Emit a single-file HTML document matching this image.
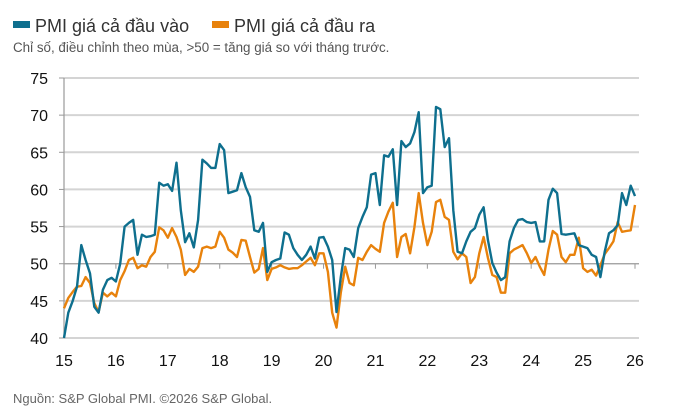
<!DOCTYPE html>
<html><head><meta charset="utf-8">
<style>
body{margin:0;background:#fff;font-family:"Liberation Sans",sans-serif;}
#wrap{position:relative;width:700px;height:415px;overflow:hidden;}
</style></head>
<body>
<div id="wrap">
<svg id="chart" width="700" height="415">
  <g>
    <rect x="13" y="21" width="17" height="7" fill="#0e6f8e"/>
    <text x="35" y="32" font-size="18" fill="#333" font-family="Liberation Sans, sans-serif">PMI giá cả đầu vào</text>
    <rect x="212" y="21" width="17" height="7" fill="#e8820c"/>
    <text x="234" y="32" font-size="18" fill="#333" font-family="Liberation Sans, sans-serif">PMI giá cả đầu ra</text>
  </g>
  <text x="13" y="52" font-size="13.4" fill="#555">Chỉ số, điều chỉnh theo mùa, &gt;50 = tăng giá so với tháng trước.</text>
  <g id="grid"></g>
  <g id="axes"></g>
  <g id="series"></g>
  <text x="13" y="403" font-size="13" fill="#666">Nguồn: S&amp;P Global PMI. ©2026 S&amp;P Global.</text>
</svg>
</div>
<script>
const yTicks = [40,45,50,55,60,65,70,75];
const xTickLabels = ["15","16","17","18","19","20","21","22","23","24","25","26"];
const inputPrices = [
40,43.4,45,46.9,52.5,50.5,48.7,44.2,43.4,46.5,47.8,48.1,
47.6,50,55,55.5,55.9,51.2,53.9,53.6,53.7,53.9,60.9,60.5,
60.7,59.8,63.6,57.2,52.9,54.1,52.2,55.9,64,63.5,62.9,62.9,
66.1,65.3,59.5,59.7,59.9,62.2,60.3,59,54.5,54.3,55.5,48.9,
50.2,50.5,50.7,54.2,53.9,52.1,51.2,50.5,51.2,52.3,50.7,53.5,
53.6,52.3,50.5,43.5,48.2,52.1,51.9,
50.9,54.8,56.3,57.6,62,62.2,57.9,64.6,64.4,65.4,57.9,66.5,65.7,66.2,67.7,70.4,59.5,60.3,60.5,71.1,70.8,65.7,66.9,57.2,51.6,51.4,53,54.3,54.8,56.6,57.6,53.2,50.1,48.8,47.8,48.2,53,54.8,55.9,56,55.6,55.5,55.6,53,53,58.6,60.1,59.5,54,53.9,54,54.1,52.5,52.3,52.1,51.2,50.9,48.2,51.6,54.1,54.5,55.2,59.5,57.9,60.5,59.1];
const outputPrices = [
44,45.4,46.2,46.9,47,48.2,47.4,44.7,43.5,46.1,45.6,46.1,
45.6,47.8,49,50.5,50.8,49.4,49.8,49.6,50.9,51.6,54.9,54.5,
53.5,54.8,53.6,51.9,48.5,49.3,48.9,49.6,52.1,52.3,52.1,52.3,
54.3,53.5,51.9,51.5,50.9,53.2,53.1,50.9,48.8,49.3,52.1,47.8,
49.3,49.5,49.8,49.5,49.3,49.4,49.4,49.8,50.3,50.8,49.8,51.4,
51.4,48.9,43.4,41.4,46.1,49.6,47.4,
47.1,50.8,50.5,51.6,52.5,52,51.6,55.5,57,58.2,50.9,53.6,54,51.4,54.9,59.5,55.5,52.5,54.3,58.3,58.6,56.3,55.9,51.6,50.6,51.4,50.9,47.4,48.2,51.4,53.6,50.8,48.5,48.2,46.1,46.1,51.4,51.9,52.2,52.5,51.4,50.1,50.9,49.6,48.5,51.9,54.4,53.9,50.9,50.2,51.2,51.2,53.5,49.4,48.9,49.2,48.4,49.8,51.3,52.1,53,55.6,54.3,54.4,54.5,57.9];

const NS="http://www.w3.org/2000/svg";
const X0=64, X1=635, Y0=338, Y1=78;
function yScale(v){return Y0-(v-40)/(75-40)*(Y0-Y1);}
function xScale(m){return X0+m/132*(X1-X0);}
function mk(tag,attrs,parent){const e=document.createElementNS(NS,tag);for(const k in attrs)e.setAttribute(k,attrs[k]);parent.appendChild(e);return e;}
const grid=document.getElementById('grid'), axes=document.getElementById('axes'), series=document.getElementById('series');

yTicks.forEach(v=>{
  const y=yScale(v);
  const l=mk('line',{x1:X0,x2:X1+4,y1:y,y2:y,stroke:v===50?'#999':'#d4d4d4','stroke-width':v===50?1.2:2},grid);
  
  
  const t=mk('line',{x1:X0-5,x2:X0,y1:y,y2:y,stroke:'#999','stroke-width':1},axes);
  
  
  const tx=mk('text',{x:48,y:y+6,'text-anchor':'end','font-size':16,fill:'#111'},axes);
  tx.textContent=v;
  
  
});
const ax=mk('line',{x1:X0,x2:X0,y1:Y1,y2:Y0,stroke:'#999','stroke-width':1.2},axes);


xTickLabels.forEach((lab,i)=>{
  const x=xScale(i*12);
  const t=mk('line',{x1:x,x2:x,y1:yScale(50),y2:yScale(50)+5,stroke:'#999','stroke-width':1},axes);
  
  
  const tx=mk('text',{x:x,y:366,'text-anchor':'middle','font-size':16,fill:'#111'},axes);
  tx.textContent=lab;
  
  
});
function drawLine(arr,color,name){
  const d=arr.map((v,i)=>(i?'L':'M')+xScale(i).toFixed(1)+' '+yScale(v).toFixed(1)).join(' ');
  const p=mk('path',{d:d,fill:'none',stroke:color,'stroke-width':2.4,'stroke-linejoin':'round'},series);
  
  
}
drawLine(outputPrices,'#e8820c','output-prices-line');
drawLine(inputPrices,'#0e6f8e','input-prices-line');
</script>
</body></html>
